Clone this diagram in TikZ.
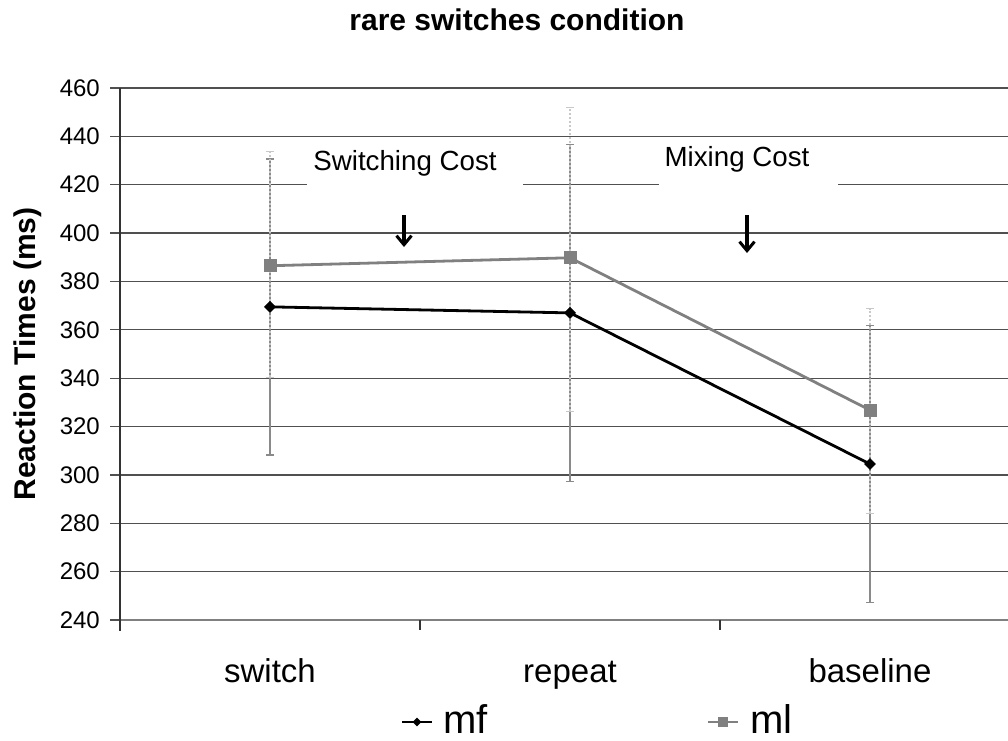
\documentclass[tikz,border=0pt]{standalone}
\usepackage{fontspec}
\setmainfont{Liberation Sans}
\usetikzlibrary{arrows.meta,shapes.geometric}
\definecolor{gridc}{HTML}{505050}
\definecolor{mlc}{HTML}{808080}
\definecolor{errc}{HTML}{8A8A8A}
\definecolor{errl}{HTML}{C8C8C8}
\begin{document}
\begin{tikzpicture}[x=1pt,y=-1pt,
  declare function={Y(\v)=620-(\v-240)*2.41818;},
  gridline/.style={draw=gridc,line width=1.3pt},
  ticklab/.style={font=\fontsize{24}{24}\selectfont,anchor=east,inner sep=0pt},
  catlab/.style={font=\fontsize{33}{33}\selectfont,inner sep=0pt,anchor=base},
  legtext/.style={font=\fontsize{40}{40}\selectfont,anchor=base west,inner sep=0pt},
  costlab/.style={font=\fontsize{27.7}{27.7}\selectfont,inner sep=0pt},
  whitebox/.style={fill=white,draw=none,inner sep=0pt},
  mfline/.style={draw=black,line width=2.8pt},
  mlline/.style={draw=mlc,line width=2.8pt},
  mfmark/.style={diamond,fill=black,minimum size=12pt,inner sep=0pt},
  mlmark/.style={rectangle,fill=mlc,minimum size=13pt,inner sep=0pt},
  errmf/.style={draw=errc,line width=1.4pt,{Bar[width=8pt,line width=1.4pt]}-{Bar[width=8pt,line width=1.4pt]}},
  errml/.style={draw=errl,line width=1.4pt,dash pattern=on 2pt off 2pt,{Bar[width=8pt,line width=1pt]}-{Bar[width=8pt,line width=1pt]}},
  costarrow/.style={draw=black,line width=3.2pt,-{Straight Barb[length=9pt,width=15pt,line width=3pt]}}
]
\useasboundingbox (0,0) rectangle (1008,740);
% grid lines with left ticks
\foreach \v in {260,280,...,460} {\draw[gridline] (110,{Y(\v)}) -- (1008,{Y(\v)});}
\draw[gridline] (110,620) -- (120,620);
% tick labels
\foreach \v in {240,260,...,460} {\node[ticklab] (t\v) at (100,{Y(\v)}) {\v};}
% axes
\draw[draw=mlc,line width=1.6pt] (120,620) -- (1008,620);
\draw[draw=black!80,line width=1.3pt] (420,620) -- (420,630);
\draw[draw=black!80,line width=1.3pt] (720,620) -- (720,630);
\draw[draw=black!80,line width=1.3pt] (120,88) -- (120,631);
% white label boxes covering grid
\node[whitebox,minimum width=216pt,minimum height=50pt] (scbg) at (415,168) {};
\node[whitebox,minimum width=179pt,minimum height=50pt] (mcbg) at (748.5,168) {};
\node[costlab] (sc) at (405,163) {Switching Cost};
\node[costlab] (mc) at (737,159) {Mixing Cost};
% error bar end points
\coordinate (eSmflo) at (270,{Y(308)});  \coordinate (eSmfhi) at (270,{Y(431)});
\coordinate (eRmflo) at (570,{Y(297)});  \coordinate (eRmfhi) at (570,{Y(437)});
\coordinate (eBmflo) at (870,{Y(247)});  \coordinate (eBmfhi) at (870,{Y(362)});
\coordinate (eSmllo) at (270,{Y(340)});  \coordinate (eSmlhi) at (270,{Y(434)});
\coordinate (eRmllo) at (570,{Y(326)});  \coordinate (eRmlhi) at (570,{Y(452)});
\coordinate (eBmllo) at (870,{Y(284)});  \coordinate (eBmlhi) at (870,{Y(369)});
\draw[errmf] (eSmflo) -- (eSmfhi);
\draw[errmf] (eRmflo) -- (eRmfhi);
\draw[errmf] (eBmflo) -- (eBmfhi);
\draw[errml] (eSmllo) -- (eSmlhi);
\draw[errml] (eRmllo) -- (eRmlhi);
\draw[errml] (eBmllo) -- (eBmlhi);
% data points
\coordinate (mfS) at (270,{Y(369.5)});
\coordinate (mfR) at (570,{Y(367)});
\coordinate (mfB) at (870,{Y(304.5)});
\coordinate (mlS) at (270,{Y(386.5)});
\coordinate (mlR) at (570,{Y(389.8)});
\coordinate (mlB) at (870,{Y(326.8)});
\draw[mlline] (mlS) -- (mlR) -- (mlB);
\draw[mfline] (mfS) -- (mfR) -- (mfB);
\node[mlmark] (mlSm) at (mlS) {};
\node[mlmark] (mlRm) at (mlR) {};
\node[mlmark] (mlBm) at (mlB) {};
\node[mfmark] (mfSm) at (mfS) {};
\node[mfmark] (mfRm) at (mfR) {};
\node[mfmark] (mfBm) at (mfB) {};
% cost arrows
\coordinate (a1s) at (404,215); \coordinate (a1e) at (404,247);
\coordinate (a2s) at (747,215); \coordinate (a2e) at (747,253);
\draw[costarrow] (a1s) -- (a1e);
\draw[costarrow] (a2s) -- (a2e);
% category labels
\node[catlab] (cs) at (270,682) {switch};
\node[catlab] (cr) at (570,682) {repeat};
\node[catlab] (cb) at (870,682) {baseline};
% title and axis label
\node[font=\fontsize{30}{30}\selectfont\bfseries,inner sep=0pt] (title) at (517,20) {rare switches condition};
\node[font=\fontsize{30}{30}\selectfont\bfseries,inner sep=0pt,rotate=90] (ylab) at (28,354) {Reaction Times (ms)};
% legend
\coordinate (l1a) at (402,722); \coordinate (l1b) at (432,722);
\coordinate (l2a) at (708,722); \coordinate (l2b) at (738,722);
\draw[draw=black,line width=2.8pt] (l1a) -- (l1b);
\node[diamond,fill=black,minimum size=9pt,inner sep=0pt] (l1m) at (417,722) {};
\draw[draw=mlc,line width=2.8pt] (l2a) -- (l2b);
\node[rectangle,fill=mlc,minimum size=10pt,inner sep=0pt] (l2m) at (723,722) {};
\node[legtext] (mf) at (443,733) {mf};
\node[legtext] (ml) at (750,733) {ml};
\end{tikzpicture}
\end{document}
